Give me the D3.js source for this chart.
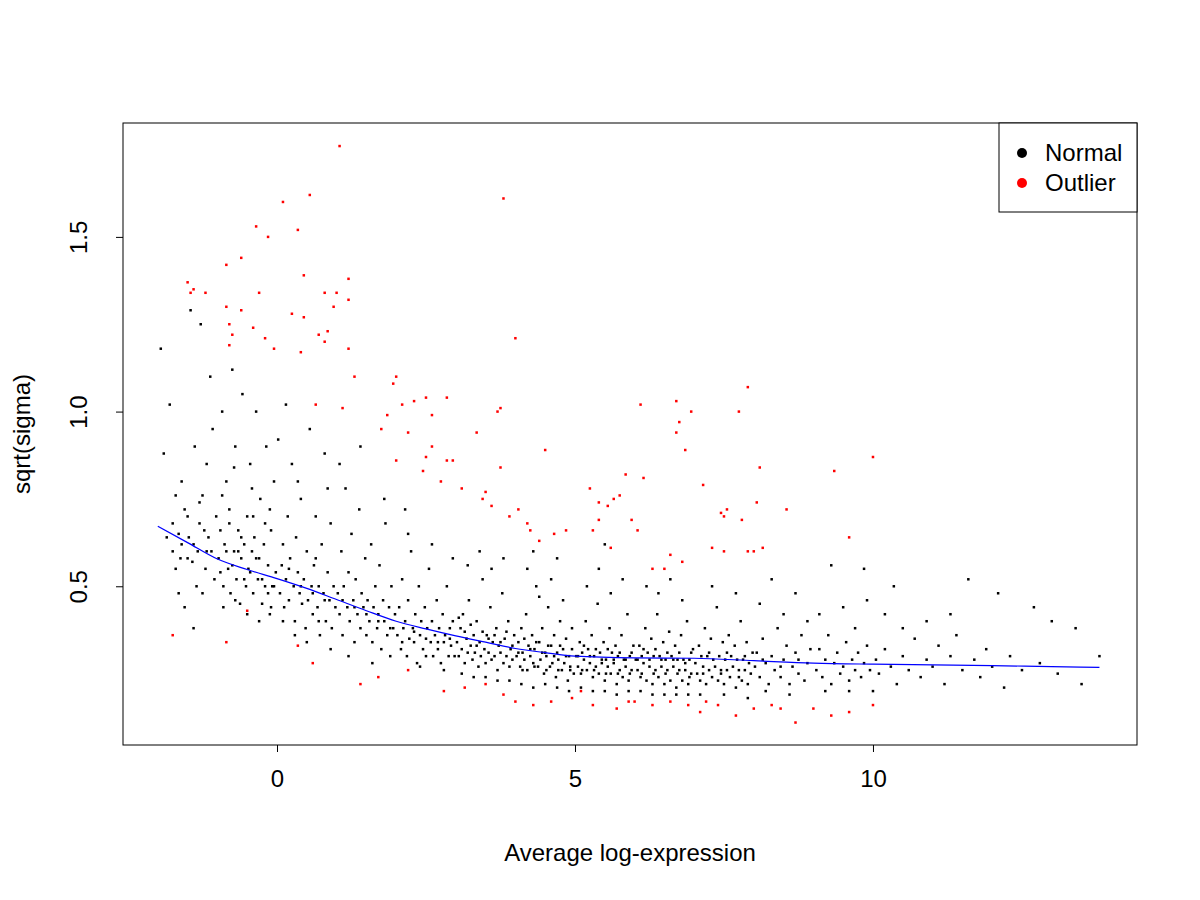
<!DOCTYPE html>
<html>
<head>
<meta charset="utf-8">
<script src="https://cdn.jsdelivr.net/npm/d3@7"></script>
<style>
  body { margin: 0; background: #fff; }
  text { font-family: "Liberation Sans", Arial, sans-serif; }
</style>
</head>
<body>
<div id="chart"></div>
<script>
// values: "x y" pairs (average log-expression, sqrt(sigma))
const normalPoints = ("-1.95 1.18,-1.9 0.88,-1.8 1.02,-1.75 0.6,-1.7 0.55,-1.65 0.65,-1.6 0.8,-1.55 0.72,-1.5 0.58,-1.45 1.29,-1.4 0.62,-1.38 0.9,-1.35 0.5,-1.3 0.68,-1.28 1.25,-1.25 0.76,-1.2 0.55,-1.18 0.85,-1.15 0.64,-1.12 1.1,-1.1 0.6,-1.08 0.95,-1.05 0.52,-1.02 0.7,-1.75 0.68,-1.6 0.62,-1.5 0.7,-1.42 0.57,-1.33 0.6,-1.22 0.66,-1.18 0.6,-1.62 0.58,-1.48 0.64,-1.3 0.74,-1.85 0.64,-1.7 0.76,-1.65 0.48,-1.55 0.44,-1.4 0.38,-1.25 0.48," +
"-0.98 0.58,-0.95 0.66,-0.92 1.0,-0.9 0.5,-0.88 0.62,-0.85 0.8,-0.82 0.55,-0.8 0.72,-0.78 0.48,-0.75 1.12,-0.72 0.6,-0.7 0.9,-0.68 0.52,-0.65 0.66,-0.62 0.45,-0.6 0.58,-0.58 1.05,-0.55 0.62,-0.52 0.5,-0.5 0.7,-0.48 0.55,-0.45 0.85,-0.42 0.6,-0.4 0.48,-0.38 0.64,-0.35 1.0,-0.32 0.52,-0.3 0.58,-0.28 0.75,-0.25 0.45,-0.22 0.62,-0.2 0.5,-0.18 0.9,-0.15 0.56,-0.12 0.42,-0.1 0.66,-0.08 0.5,-0.05 0.8,-0.02 0.54,-0.95 0.54,-0.85 0.6,-0.75 0.56,-0.65 0.6,-0.55 0.52,-0.45 0.54,-0.35 0.58,-0.25 0.52,-0.15 0.48,-0.05 0.5,-0.9 0.44,-0.7 0.46,-0.5 0.42,-0.3 0.4,-0.1 0.44,-0.8 0.68,-0.6 0.64,-0.4 0.7,-0.2 0.68,-0.92 0.76,-0.72 0.84,-0.42 0.78,-0.12 0.72," +
"0.02 0.92,0.05 0.48,0.08 0.56,0.1 0.62,0.12 0.44,0.15 0.52,0.18 0.7,0.2 0.46,0.22 0.58,0.25 0.85,0.28 0.5,0.3 0.4,0.32 0.64,0.35 0.54,0.38 0.48,0.4 0.75,0.42 0.45,0.45 0.52,0.48 0.38,0.5 0.6,0.52 0.46,0.55 0.95,0.58 0.5,0.6 0.42,0.62 0.56,0.65 0.7,0.68 0.44,0.7 0.5,0.72 0.36,0.75 0.62,0.78 0.48,0.8 0.88,0.82 0.4,0.85 0.54,0.88 0.46,0.9 0.68,0.92 0.38,0.95 0.5,0.98 0.44,0.1 0.4,0.3 0.36,0.5 0.34,0.7 0.4,0.9 0.32,0.2 0.55,0.4 0.5,0.6 0.48,0.8 0.46,0.15 1.02,0.35 0.8,0.65 0.58,0.85 0.78," +
"1.02 0.48,1.05 0.42,1.08 0.6,1.1 0.36,1.12 0.5,1.15 0.78,1.18 0.44,1.2 0.54,1.22 0.4,1.25 0.65,1.28 0.46,1.3 0.34,1.32 0.52,1.35 0.42,1.38 0.72,1.4 0.38,1.42 0.48,1.45 0.44,1.48 0.58,1.5 0.36,1.52 0.46,1.55 0.4,1.58 0.62,1.6 0.34,1.62 0.44,1.65 0.5,1.68 0.38,1.7 0.42,1.72 0.56,1.75 0.32,1.78 0.46,1.8 0.4,1.82 0.68,1.85 0.36,1.88 0.44,1.9 0.3,1.92 0.5,1.95 0.38,1.98 0.42,1.1 0.46,1.3 0.44,1.5 0.42,1.7 0.4,1.9 0.38,1.2 0.3,1.6 0.28,1.4 0.9,1.8 0.75,1.05 0.85," +
"2.02 0.36,2.05 0.44,2.08 0.32,2.1 0.52,2.12 0.38,2.15 0.4,2.18 0.3,2.2 0.46,2.22 0.35,2.25 0.6,2.28 0.38,2.3 0.34,2.32 0.42,2.35 0.28,2.38 0.5,2.4 0.36,2.42 0.4,2.45 0.32,2.48 0.44,2.5 0.3,2.52 0.38,2.55 0.55,2.58 0.34,2.6 0.4,2.62 0.3,2.65 0.36,2.68 0.46,2.7 0.32,2.72 0.38,2.75 0.28,2.78 0.42,2.8 0.34,2.82 0.36,2.85 0.5,2.88 0.3,2.9 0.38,2.92 0.33,2.95 0.4,2.98 0.3,2.1 0.34,2.3 0.37,2.5 0.35,2.7 0.34,2.9 0.35,2.2 0.65,2.6 0.62,2.4 0.27,2.8 0.26,2.15 0.72,2.95 0.58," +
"3.02 0.34,3.05 0.3,3.08 0.38,3.1 0.32,3.12 0.42,3.15 0.28,3.18 0.35,3.2 0.31,3.22 0.46,3.25 0.33,3.28 0.29,3.3 0.36,3.32 0.31,3.35 0.4,3.38 0.27,3.4 0.34,3.42 0.3,3.45 0.52,3.48 0.32,3.5 0.28,3.52 0.36,3.55 0.31,3.58 0.44,3.6 0.29,3.62 0.34,3.65 0.3,3.68 0.38,3.7 0.26,3.72 0.33,3.75 0.31,3.78 0.48,3.8 0.28,3.82 0.35,3.85 0.3,3.88 0.4,3.9 0.27,3.92 0.32,3.95 0.29,3.98 0.36,3.1 0.25,3.3 0.24,3.5 0.24,3.7 0.23,3.9 0.23,3.2 0.56,3.4 0.6,3.6 0.55,3.8 0.58,3.15 0.37,3.35 0.33,3.55 0.35,3.75 0.34,3.95 0.33,3.05 0.41,3.25 0.39,3.45 0.37,3.65 0.36,3.85 0.37," +
"4.02 0.3,4.05 0.34,4.08 0.27,4.1 0.38,4.12 0.31,4.15 0.29,4.18 0.42,4.2 0.26,4.22 0.33,4.25 0.3,4.28 0.36,4.3 0.28,4.32 0.32,4.35 0.5,4.38 0.27,4.4 0.34,4.42 0.29,4.45 0.38,4.48 0.25,4.5 0.31,4.52 0.3,4.55 0.44,4.58 0.27,4.6 0.33,4.62 0.28,4.65 0.36,4.68 0.24,4.7 0.31,4.72 0.29,4.75 0.4,4.78 0.26,4.8 0.32,4.82 0.28,4.85 0.35,4.88 0.23,4.9 0.3,4.92 0.27,4.95 0.38,4.98 0.25,4.1 0.22,4.3 0.21,4.5 0.22,4.7 0.21,4.9 0.2,4.2 0.55,4.4 0.47,4.6 0.52,4.8 0.46,4.05 0.31,4.25 0.32,4.45 0.31,4.65 0.3,4.85 0.3,4.15 0.35,4.35 0.34,4.55 0.33,4.75 0.33,4.95 0.32,4.12 0.26,4.32 0.27,4.52 0.26,4.72 0.26,4.92 0.26,4.3 0.6,4.7 0.58," +
"5.02 0.3,5.05 0.27,5.08 0.34,5.1 0.25,5.12 0.31,5.15 0.29,5.18 0.4,5.2 0.26,5.22 0.32,5.25 0.28,5.28 0.36,5.3 0.24,5.32 0.3,5.35 0.27,5.38 0.45,5.4 0.25,5.42 0.31,5.45 0.28,5.48 0.34,5.5 0.23,5.52 0.29,5.55 0.27,5.58 0.38,5.6 0.25,5.62 0.31,5.65 0.28,5.68 0.33,5.7 0.22,5.72 0.3,5.75 0.26,5.78 0.36,5.8 0.24,5.82 0.29,5.85 0.27,5.88 0.42,5.9 0.23,5.92 0.3,5.95 0.26,5.98 0.33,5.1 0.21,5.3 0.2,5.5 0.2,5.7 0.19,5.9 0.2,5.2 0.5,5.4 0.55,5.6 0.48,5.8 0.52,5.05 0.3,5.25 0.3,5.45 0.29,5.65 0.29,5.85 0.29,5.15 0.33,5.35 0.32,5.55 0.32,5.75 0.31,5.95 0.31,5.12 0.26,5.32 0.26,5.52 0.25,5.72 0.25,5.92 0.25,5.5 0.62," +
"6.02 0.29,6.05 0.26,6.08 0.33,6.1 0.24,6.12 0.3,6.15 0.28,6.18 0.38,6.2 0.23,6.22 0.31,6.25 0.27,6.28 0.35,6.3 0.22,6.32 0.3,6.35 0.26,6.38 0.42,6.4 0.24,6.42 0.3,6.45 0.27,6.48 0.34,6.5 0.22,6.52 0.29,6.55 0.26,6.58 0.37,6.6 0.23,6.62 0.3,6.65 0.27,6.68 0.33,6.7 0.21,6.72 0.29,6.75 0.26,6.78 0.36,6.8 0.23,6.82 0.29,6.85 0.26,6.88 0.4,6.9 0.22,6.92 0.29,6.95 0.25,6.98 0.32,6.1 0.2,6.3 0.19,6.5 0.19,6.7 0.19,6.9 0.19,6.2 0.5,6.4 0.48,6.6 0.52,6.8 0.46,6.05 0.29,6.25 0.29,6.45 0.29,6.65 0.29,6.85 0.28,6.15 0.32,6.35 0.32,6.55 0.31,6.75 0.31,6.95 0.31,6.12 0.25,6.32 0.25,6.52 0.25,6.72 0.25,6.92 0.24," +
"7.02 0.28,7.05 0.25,7.08 0.33,7.1 0.23,7.12 0.3,7.15 0.27,7.18 0.38,7.2 0.22,7.22 0.3,7.25 0.26,7.28 0.35,7.3 0.24,7.32 0.29,7.35 0.27,7.38 0.44,7.4 0.23,7.42 0.3,7.45 0.26,7.48 0.34,7.5 0.22,7.52 0.29,7.55 0.26,7.58 0.36,7.6 0.24,7.62 0.3,7.65 0.27,7.68 0.33,7.7 0.21,7.72 0.29,7.75 0.26,7.78 0.4,7.8 0.23,7.82 0.29,7.85 0.26,7.88 0.34,7.9 0.22,7.92 0.28,7.95 0.25,7.98 0.31,7.1 0.19,7.5 0.19,7.9 0.18,7.3 0.5,7.7 0.48,7.25 0.31,7.55 0.31,7.85 0.3,7.15 0.25,7.45 0.25,7.75 0.24," +
"8.02 0.27,8.05 0.31,8.1 0.24,8.15 0.35,8.2 0.28,8.25 0.22,8.3 0.3,8.35 0.26,8.4 0.38,8.45 0.24,8.5 0.29,8.55 0.33,8.6 0.22,8.65 0.27,8.7 0.31,8.75 0.25,8.8 0.36,8.85 0.23,8.9 0.28,8.95 0.32,8.1 0.45,8.3 0.52,8.5 0.42,8.7 0.48,8.9 0.4,8.2 0.2,8.6 0.19,8.15 0.29,8.45 0.27,8.75 0.29," +
"9.05 0.26,9.1 0.32,9.15 0.24,9.2 0.29,9.25 0.36,9.3 0.22,9.35 0.28,9.4 0.31,9.45 0.25,9.5 0.27,9.55 0.34,9.6 0.23,9.65 0.29,9.7 0.26,9.75 0.31,9.8 0.24,9.85 0.28,9.9 0.33,9.95 0.26,9.1 0.42,9.3 0.56,9.5 0.44,9.7 0.38,9.9 0.46,9.2 0.2,9.6 0.2,9.85 0.55," +
"10.05 0.29,10.1 0.25,10.2 0.32,10.3 0.27,10.35 0.5,10.4 0.22,10.5 0.3,10.6 0.26,10.7 0.35,10.8 0.24,10.9 0.29,11.0 0.27,11.1 0.33,11.2 0.22,11.3 0.3,11.4 0.36,11.5 0.26,11.6 0.52,11.7 0.29,11.8 0.24,11.9 0.32,12.0 0.27,12.1 0.48,12.2 0.21,12.3 0.3,12.5 0.26,12.7 0.44,12.8 0.28,13.0 0.4,13.1 0.25,13.4 0.38,13.5 0.22,13.8 0.3,10.2 0.42,10.5 0.38,10.9 0.4,11.3 0.42,10.0 0.2")
  .split(",").map(s => s.trim().split(" ").map(Number));

const outlierPoints = ("1.05 1.76,0.1 1.60,0.55 1.62,3.8 1.61,-0.85 1.42,-0.6 1.44,-0.85 1.30,-0.6 1.29,-0.35 1.53,-0.15 1.50,0.35 1.52,-0.3 1.34,0.45 1.39,-1.45 1.34,-1.5 1.37,-1.4 1.35,-1.2 1.34,0.25 1.28,0.45 1.27,0.8 1.34,1.0 1.34,1.2 1.38,1.2 1.32,0.7 1.22,0.8 1.20,0.85 1.23,0.95 1.30,-0.8 1.25,-0.75 1.22,-0.8 1.19,-0.4 1.24,-0.2 1.21,-0.05 1.18,0.4 1.17,1.2 1.18,1.3 1.10,4.0 1.21,0.65 1.02,1.1 1.01,3.7 1.00,3.75 1.01,2.0 1.10,1.95 1.08,2.3 1.03,2.5 1.04,2.1 1.02,2.85 1.04,2.6 0.99,1.75 0.95,1.85 0.99,2.2 0.94,2.6 0.90,2.5 0.87,2.85 0.86,2.95 0.86,3.35 0.94,2.0 0.86,2.45 0.83,2.75 0.80,3.75 0.84,3.1 0.78,3.5 0.77,3.45 0.75,3.6 0.73,3.9 0.70,4.2 0.68,4.25 0.66,4.4 0.63,4.5 0.89,4.05 0.72,4.85 0.66,4.65 0.65,5.25 0.78,5.4 0.74,5.55 0.73,5.65 0.75,5.75 0.76,5.3 0.66,5.4 0.69,5.6 0.61,5.95 0.69,5.85 0.82,6.15 0.81,6.05 0.66,6.3 0.55,6.5 0.55,6.6 0.59,6.8 0.57,6.1 1.02,6.7 1.03,6.75 0.97,6.7 0.94,6.95 1.00,6.85 0.89,7.75 1.00,7.9 1.07,8.1 0.84,7.15 0.79,7.45 0.71,7.5 0.70,7.55 0.72,7.8 0.69,7.9 0.60,8.15 0.61,8.0 0.60,8.05 0.74,8.55 0.72,9.35 0.83,9.6 0.64,10.0 0.87,7.3 0.61,7.5 0.60," +
"-1.75 0.36,-0.85 0.34,-0.5 0.43,0.35 0.33,0.6 0.28,1.4 0.22,1.7 0.24,2.2 0.26,2.8 0.20,3.15 0.21,3.5 0.22,4.0 0.17,4.3 0.16,4.6 0.17,4.95 0.18,5.3 0.16,5.7 0.15,5.9 0.17,6.3 0.16,6.6 0.17,6.9 0.16,7.1 0.14,7.4 0.16,7.7 0.13,8.0 0.15,8.3 0.16,8.7 0.11,9.0 0.15,9.3 0.13,9.6 0.14,10.0 0.16,5.1 0.20,6.0 0.17,7.2 0.17,8.45 0.15,3.8 0.19")
  .split(",").map(s => s.trim().split(" ").map(Number));

// trend curve
const trendX = [-2, -1.5, -1, -0.5, 0, 0.5, 1, 1.5, 2, 2.5, 3, 3.5, 4, 4.5, 5, 6, 7, 8, 9, 10, 11, 12, 13, 13.8];
const trendY = [0.672, 0.625, 0.578, 0.548, 0.522, 0.494, 0.462, 0.43, 0.4, 0.378, 0.358, 0.34, 0.322, 0.31, 0.3, 0.295, 0.294, 0.287, 0.28, 0.277, 0.275, 0.273, 0.27, 0.268];

const xTicks = [0, 5, 10];
const yTicks = [0.5, 1.0, 1.5];
const legendLabels = ["Normal", "Outlier"];
const legendColors = ["#000000", "#ff0000"];

const W = 1200, H = 900;
const pL = 123, pR = 1137, pT = 123, pB = 745;
const FS = 24;

const x = d3.scaleLinear().domain([-2.584, 14.43]).range([pL, pR]);
const y = d3.scaleLinear().domain([0.0457, 1.826]).range([pB, pT]);

const svg = d3.select("#chart").append("svg")
  .attr("width", W).attr("height", H);

svg.append("rect").attr("width", W).attr("height", H).attr("fill", "#fff");

// points
svg.append("g").selectAll("rect")
  .data(normalPoints)
  .enter().append("rect")
  .attr("x", d => x(d[0]) - 1.25)
  .attr("y", d => y(d[1]) - 1.25)
  .attr("width", 2.5).attr("height", 2.5)
  .attr("fill", "#000");

svg.append("g").selectAll("rect")
  .data(outlierPoints)
  .enter().append("rect")
  .attr("x", d => x(d[0]) - 1.25)
  .attr("y", d => y(d[1]) - 1.25)
  .attr("width", 2.5).attr("height", 2.5)
  .attr("fill", "#ff0000");

// trend
const line = d3.line()
  .x((d, i) => x(trendX[i]))
  .y(d => y(d))
  .curve(d3.curveMonotoneX);
svg.append("path")
  .attr("d", line(trendY))
  .attr("fill", "none")
  .attr("stroke", "#0000ff")
  .attr("stroke-width", 1.2);

// box
svg.append("rect")
  .attr("x", pL).attr("y", pT)
  .attr("width", pR - pL).attr("height", pB - pT)
  .attr("fill", "none").attr("stroke", "#000");

// axes
const xAxis = d3.axisBottom(x).tickValues(xTicks).tickSize(7).tickPadding(18).tickFormat(d3.format("d"));
const gx = svg.append("g").attr("transform", `translate(0,${pB})`).call(xAxis);
gx.select(".domain").remove();
gx.selectAll("text").attr("font-size", FS).attr("fill", "#000").style("font-family", "Liberation Sans, Arial, sans-serif");

const yAxis = d3.axisLeft(y).tickValues(yTicks).tickSize(7).tickFormat(d3.format(".1f"));
const gy = svg.append("g").attr("transform", `translate(${pL},0)`).call(yAxis);
gy.select(".domain").remove();
gy.selectAll("text")
  .attr("font-size", FS).attr("fill", "#000")
  .style("font-family", "Liberation Sans, Arial, sans-serif")
  .attr("text-anchor", "middle")
  .attr("x", 0).attr("dy", 0)
  .attr("transform", "translate(-36,0) rotate(-90)");

svg.append("text")
  .attr("x", (pL + pR) / 2).attr("y", 861)
  .attr("text-anchor", "middle").attr("font-size", FS)
  .text("Average log-expression");

svg.append("text")
  .attr("transform", `translate(30,${(pT + pB) / 2}) rotate(-90)`)
  .attr("text-anchor", "middle").attr("font-size", FS)
  .text("sqrt(sigma)");

// legend
const lg = svg.append("g");
lg.append("rect")
  .attr("x", 999).attr("y", pT)
  .attr("width", pR - 999).attr("height", 89)
  .attr("fill", "#fff").attr("stroke", "#000");
legendLabels.forEach((lab, i) => {
  lg.append("circle")
    .attr("cx", 1022).attr("cy", 153 + i * 30).attr("r", 5)
    .attr("fill", legendColors[i]);
  lg.append("text")
    .attr("x", 1045).attr("y", 161 + i * 30)
    .attr("font-size", FS)
    .text(lab);
});
</script>
</body>
</html>
